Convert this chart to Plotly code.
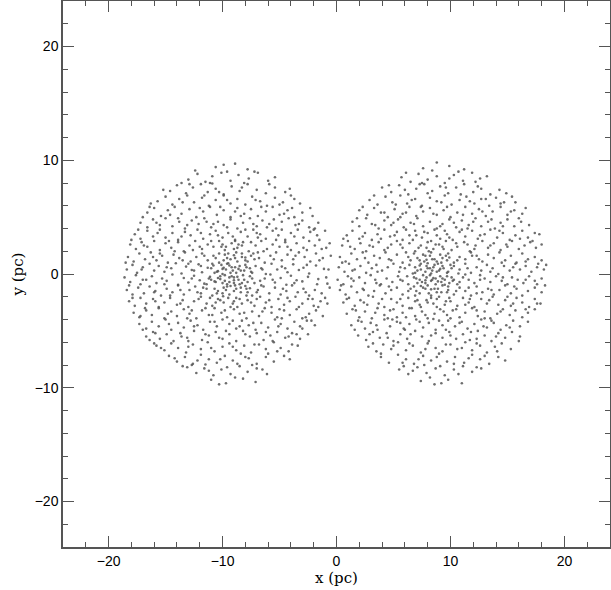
import plotly.graph_objects as go

# star positions (pc), one list per cluster
left_stars = [
    (-10.6, 9.4), (-8.9, 9.7), (-7.8, 9.2), (-9.9, 9.6),
    (-13.0, 8.3), (-12.2, 8.8), (-11.5, 8.1), (-10.9, 8.6), (-10.1, 8.9), (-9.3, 8.2), (-8.6, 8.7), (-7.7, 8.4), (-6.9, 8.9), (-6.0, 8.2),
    (-14.6, 7.3), (-14.0, 7.8), (-13.2, 7.1), (-12.6, 7.6), (-11.9, 7.9), (-11.3, 7.2), (-10.6, 7.5), (-9.9, 7.0), (-9.2, 7.7), (-8.5, 7.3),
    (-7.8, 7.9), (-7.0, 7.4), (-6.2, 7.1), (-5.4, 7.6), (-4.5, 7.2),
    (-15.7, 6.4), (-15.0, 6.8), (-14.4, 6.1), (-13.8, 6.6), (-13.1, 6.9), (-12.5, 6.3), (-11.8, 6.7), (-11.2, 6.0), (-10.6, 6.5), (-9.9, 6.9),
    (-9.3, 6.2), (-8.7, 6.6), (-8.0, 6.1), (-7.4, 6.8), (-6.7, 6.4), (-6.1, 6.0), (-5.4, 6.7), (-4.7, 6.3), (-4.0, 6.9), (-3.2, 6.2),
    (-16.6, 5.4), (-16.0, 5.8), (-15.4, 5.1), (-14.8, 5.6), (-14.2, 5.9), (-13.6, 5.3), (-12.9, 5.7), (-12.3, 5.0), (-11.7, 5.5), (-11.1, 5.9),
    (-10.5, 5.2), (-9.9, 5.6), (-9.3, 5.0), (-8.7, 5.8), (-8.1, 5.3), (-7.5, 5.7), (-6.9, 5.1), (-6.2, 5.5), (-5.6, 5.9), (-5.0, 5.2),
    (-4.3, 5.6), (-3.7, 5.0), (-3.0, 5.4), (-2.3, 5.8),
    (-17.2, 4.5), (-16.6, 4.1), (-16.1, 4.8), (-15.5, 4.3), (-15.0, 4.9), (-14.4, 4.2), (-13.8, 4.6), (-13.3, 4.0), (-12.7, 4.7), (-12.1, 4.4),
    (-11.6, 4.9), (-11.0, 4.1), (-10.4, 4.6), (-9.9, 4.3), (-9.3, 4.8), (-8.7, 4.0), (-8.2, 4.5), (-7.6, 4.9), (-7.0, 4.2), (-6.5, 4.7),
    (-5.9, 4.4), (-5.3, 4.0), (-4.8, 4.6), (-4.2, 4.9), (-3.6, 4.3), (-3.0, 4.7), (-2.4, 4.1), (-1.6, 4.5),
    (-17.7, 3.5), (-17.2, 3.1), (-16.6, 3.8), (-16.1, 3.3), (-15.5, 3.9), (-15.0, 3.2), (-14.4, 3.6), (-13.9, 3.0), (-13.3, 3.7), (-12.8, 3.4),
    (-12.2, 3.9), (-11.7, 3.1), (-11.1, 3.5), (-10.6, 3.8), (-10.0, 3.2), (-9.5, 3.6), (-8.9, 3.0), (-8.4, 3.7), (-7.8, 3.3), (-7.3, 3.9),
    (-6.7, 3.5), (-6.2, 3.1), (-5.6, 3.8), (-5.1, 3.4), (-4.5, 3.0), (-4.0, 3.6), (-3.4, 3.9), (-2.9, 3.2), (-2.3, 3.7), (-1.7, 3.4), (-1.0, 3.8),
    (-18.1, 2.6), (-17.6, 2.2), (-17.1, 2.8), (-16.6, 2.4), (-16.0, 2.9), (-15.5, 2.1), (-15.0, 2.7), (-14.5, 2.3), (-13.9, 2.8), (-13.4, 2.0),
    (-12.9, 2.5), (-12.4, 2.9), (-11.8, 2.2), (-11.3, 2.6), (-10.8, 2.4), (-10.3, 2.9), (-9.8, 2.1), (-9.2, 2.7), (-8.7, 2.3), (-8.2, 2.8),
    (-7.7, 2.0), (-7.1, 2.5), (-6.6, 2.9), (-6.1, 2.2), (-5.6, 2.6), (-5.0, 2.4), (-4.5, 2.8), (-4.0, 2.1), (-3.5, 2.7), (-2.9, 2.3),
    (-2.4, 2.9), (-1.9, 2.5), (-1.3, 2.2), (-0.6, 2.7), (-10.1, 2.4), (-9.0, 2.2), (-8.3, 2.5),
    (-18.3, 1.5), (-17.8, 1.1), (-17.3, 1.8), (-16.8, 1.3), (-16.3, 1.9), (-15.8, 1.2), (-15.3, 1.6), (-14.8, 1.0), (-14.3, 1.7), (-13.8, 1.4),
    (-13.3, 1.9), (-12.8, 1.1), (-12.3, 1.5), (-11.8, 1.8), (-11.3, 1.2), (-10.8, 1.6), (-10.3, 1.0), (-9.8, 1.7), (-9.3, 1.3), (-8.8, 1.9),
    (-8.3, 1.5), (-7.8, 1.1), (-7.3, 1.8), (-6.8, 1.4), (-6.3, 1.0), (-5.8, 1.6), (-5.3, 1.9), (-4.8, 1.2), (-4.3, 1.7), (-3.8, 1.3),
    (-3.3, 1.9), (-2.8, 1.5), (-2.3, 1.1), (-1.8, 1.8), (-1.2, 1.4), (-0.5, 1.6),
    (-10.6, 1.4), (-9.9, 1.2), (-9.5, 1.8), (-8.9, 1.4), (-8.0, 1.2), (-7.5, 1.6),
    (-18.4, 0.4), (-17.9, 0.8), (-17.5, 0.1), (-17.0, 0.6), (-16.4, 0.9), (-16.0, 0.3), (-15.6, 0.7), (-15.1, 0.2), (-14.5, 0.5), (-14.1, 0.95),
    (-13.6, 0.05), (-13.2, 0.65), (-12.7, 0.35), (-12.1, 0.85), (-11.8, 0.15), (-11.3, 0.55), (-10.8, 0.75), (-10.4, 0.25), (-10.0, 0.45), (-9.6, 0.9),
    (-9.3, 0.1), (-8.9, 0.6), (-8.4, 0.3), (-8.0, 0.8), (-7.5, 0.2), (-7.1, 0.7), (-6.6, 0.5), (-6.2, 0.0), (-5.7, 0.9), (-5.2, 0.4),
    (-4.8, 0.65), (-4.3, 0.15), (-3.8, 0.85), (-3.3, 0.35), (-2.9, 0.55), (-2.4, 0.05), (-1.8, 0.75), (-1.1, 0.45),
    (-11.0, 0.5), (-10.5, 0.2), (-10.1, 0.8), (-9.7, 0.4), (-9.2, 0.6), (-8.8, 0.1), (-8.5, 0.7), (-8.1, 0.3), (-9.5, 0.95), (-7.6, 0.5),
    (-18.6, -0.3), (-18.1, -0.7), (-17.6, -0.1), (-17.2, -0.9), (-16.7, -0.5), (-16.2, -0.2), (-15.8, -0.8), (-15.3, -0.4), (-14.9, -0.6), (-14.4, -0.05),
    (-13.9, -0.95), (-13.4, -0.35), (-13.0, -0.75), (-12.5, -0.15), (-12.0, -0.55), (-11.6, -0.85), (-11.1, -0.25), (-10.7, -0.65), (-10.2, -0.45), (-9.8, -0.1),
    (-9.4, -0.7), (-9.0, -0.3), (-8.5, -0.9), (-8.1, -0.5), (-7.6, -0.2), (-7.2, -0.8), (-6.7, -0.6), (-6.3, -0.4), (-5.8, -0.05), (-5.4, -0.75),
    (-4.9, -0.35), (-4.4, -0.95), (-4.0, -0.15), (-3.5, -0.55), (-3.0, -0.65), (-2.5, -0.25), (-1.6, -0.45), (-0.8, -0.85),
    (-11.2, -0.4), (-10.6, -0.7), (-10.2, -0.2), (-9.8, -0.6), (-9.4, -0.3), (-9.0, -0.8), (-8.6, -0.5), (-8.2, -0.1), (-7.8, -0.7), (-9.6, -0.9),
    (-18.4, -1.4), (-17.9, -1.8), (-17.4, -1.2), (-16.9, -1.7), (-16.4, -1.1), (-15.9, -1.5), (-15.4, -1.9), (-14.9, -1.3), (-14.4, -1.6), (-13.9, -1.0),
    (-13.4, -1.8), (-12.9, -1.4), (-12.4, -1.1), (-11.9, -1.7), (-11.4, -1.3), (-10.9, -1.9), (-10.4, -1.5), (-9.9, -1.2), (-9.4, -1.8), (-8.9, -1.0),
    (-8.4, -1.6), (-7.9, -1.3), (-7.4, -1.9), (-6.9, -1.4), (-6.4, -1.1), (-5.9, -1.7), (-5.4, -1.2), (-4.9, -1.8), (-4.4, -1.5), (-3.9, -1.0),
    (-3.4, -1.6), (-2.9, -1.3), (-2.4, -1.9), (-1.9, -1.4), (-1.3, -1.7), (-0.6, -1.2),
    (-10.7, -1.3), (-10.0, -1.7), (-9.6, -1.1), (-9.0, -1.5), (-8.4, -1.2), (-7.8, -1.6),
    (-18.2, -2.4), (-17.7, -2.8), (-17.2, -2.1), (-16.7, -2.6), (-16.1, -2.2), (-15.6, -2.9), (-15.1, -2.5), (-14.6, -2.1), (-14.0, -2.7), (-13.5, -2.3),
    (-13.0, -2.9), (-12.5, -2.4), (-11.9, -2.0), (-11.4, -2.6), (-10.9, -2.8), (-10.4, -2.2), (-9.9, -2.5), (-9.3, -2.9), (-8.8, -2.1), (-8.3, -2.6),
    (-7.8, -2.3), (-7.2, -2.8), (-6.7, -2.0), (-6.2, -2.5), (-5.7, -2.9), (-5.1, -2.2), (-4.6, -2.7), (-4.1, -2.4), (-3.6, -2.0), (-3.0, -2.6),
    (-2.5, -2.2), (-2.0, -2.8), (-1.4, -2.4), (-0.8, -2.6), (-10.2, -2.3), (-9.1, -2.6), (-8.5, -2.2),
    (-17.8, -3.4), (-17.3, -3.8), (-16.7, -3.2), (-16.2, -3.6), (-15.6, -3.0), (-15.1, -3.9), (-14.5, -3.3), (-14.0, -3.7), (-13.4, -3.1), (-12.9, -3.5),
    (-12.3, -3.9), (-11.8, -3.2), (-11.2, -3.6), (-10.7, -3.0), (-10.1, -3.4), (-9.6, -3.8), (-9.0, -3.1), (-8.5, -3.5), (-7.9, -3.9), (-7.4, -3.3),
    (-6.8, -3.7), (-6.3, -3.0), (-5.7, -3.4), (-5.2, -3.8), (-4.6, -3.2), (-4.1, -3.6), (-3.5, -3.1), (-3.0, -3.9), (-2.4, -3.5), (-1.8, -3.2), (-1.2, -3.7),
    (-17.3, -4.4), (-16.7, -4.8), (-16.2, -4.2), (-15.6, -4.6), (-15.0, -4.0), (-14.5, -4.9), (-13.9, -4.3), (-13.4, -4.7), (-12.8, -4.1), (-12.2, -4.5),
    (-11.7, -4.9), (-11.1, -4.2), (-10.5, -4.6), (-10.0, -4.0), (-9.4, -4.4), (-8.8, -4.8), (-8.3, -4.1), (-7.7, -4.5), (-7.1, -4.9), (-6.6, -4.3),
    (-6.0, -4.7), (-5.4, -4.0), (-4.9, -4.4), (-4.3, -4.8), (-3.7, -4.2), (-3.2, -4.6), (-2.6, -4.1), (-1.9, -4.5),
    (-16.7, -5.5), (-16.1, -5.1), (-15.5, -5.7), (-14.9, -5.3), (-14.3, -5.9), (-13.7, -5.2), (-13.1, -5.6), (-12.5, -5.0), (-11.8, -5.8), (-11.2, -5.4),
    (-10.6, -5.1), (-10.0, -5.7), (-9.4, -5.3), (-8.8, -5.9), (-8.2, -5.0), (-7.6, -5.5), (-7.0, -5.2), (-6.4, -5.8), (-5.8, -5.4), (-5.2, -5.1),
    (-4.5, -5.6), (-3.9, -5.2), (-3.2, -5.7), (-2.5, -5.3),
    (-15.8, -6.3), (-15.1, -6.7), (-14.5, -6.1), (-13.9, -6.5), (-13.2, -6.9), (-12.6, -6.2), (-11.9, -6.6), (-11.3, -6.0), (-10.7, -6.8), (-10.0, -6.4),
    (-9.4, -6.1), (-8.8, -6.7), (-8.1, -6.3), (-7.5, -6.9), (-6.8, -6.2), (-6.2, -6.6), (-5.5, -6.0), (-4.9, -6.5), (-4.2, -6.8), (-3.4, -6.3),
    (-14.7, -7.2), (-14.0, -7.7), (-13.3, -7.3), (-12.6, -7.9), (-11.9, -7.1), (-11.2, -7.5), (-10.5, -7.8), (-9.8, -7.2), (-9.1, -7.6), (-8.4, -7.0),
    (-7.7, -7.4), (-7.0, -7.9), (-6.2, -7.3), (-5.5, -7.7), (-4.6, -7.2),
    (-13.1, -8.2), (-12.3, -8.7), (-11.6, -8.3), (-10.8, -8.9), (-10.1, -8.4), (-9.3, -8.8), (-8.5, -8.1), (-7.8, -8.6), (-7.0, -8.3), (-6.1, -8.8),
    (-11.0, -9.3), (-9.7, -9.6), (-8.2, -9.2), (-7.1, -9.5),
    # fainter fill between the rows above
    (-12.4, 9.1), (-11.1, 8.0), (-9.6, 9.0), (-8.1, 8.0), (-7.2, 9.0), (-5.4, 8.5), (-13.6, 8.0),
    (-15.2, 7.4), (-13.5, 6.3), (-12.9, 7.9), (-11.6, 6.9), (-10.3, 7.2), (-9.6, 6.5), (-8.3, 7.6), (-7.1, 6.5), (-5.9, 7.9), (-5.0, 6.1),
    (-3.7, 6.6), (-4.1, 7.5), (-16.3, 6.2), (-10.9, 7.95),
    (-17.0, 5.0), (-15.8, 4.5), (-14.6, 5.2), (-13.1, 4.3), (-12.0, 5.8), (-11.4, 4.6), (-10.2, 5.9), (-9.6, 4.1), (-8.4, 5.1), (-7.3, 4.4),
    (-6.6, 5.9), (-5.5, 4.8), (-4.6, 5.3), (-3.3, 4.4), (-2.1, 5.1), (-1.9, 4.0), (-16.4, 5.9), (-13.9, 4.9), (-10.8, 4.4), (-8.9, 5.5),
    (-6.1, 4.1), (-3.9, 5.8),
    (-18.0, 3.0), (-16.9, 2.5), (-15.7, 3.6), (-14.7, 2.9), (-13.6, 3.3), (-12.6, 2.1), (-11.9, 3.6), (-11.0, 2.9), (-10.4, 3.4), (-9.7, 2.4),
    (-9.1, 3.3), (-8.6, 2.6), (-8.0, 3.9), (-7.5, 2.8), (-6.9, 3.2), (-6.4, 2.0), (-5.3, 3.0), (-4.3, 2.4), (-3.7, 3.3), (-2.6, 2.1),
    (-1.5, 3.0), (-0.9, 2.3), (-17.4, 3.9), (-14.2, 2.0), (-10.0, 2.6), (-8.9, 2.9), (-7.0, 3.6), (-4.8, 3.9), (-2.0, 3.9), (-12.0, 2.4),
    (-18.5, 1.0), (-17.1, 0.4), (-16.1, 1.5), (-14.9, 0.6), (-13.5, 1.2), (-12.5, 0.3), (-11.6, 1.6), (-10.9, 0.9), (-10.3, 1.8), (-10.0, 0.0),
    (-9.6, 1.4), (-9.1, 0.3), (-8.7, 1.1), (-8.3, 1.8), (-7.9, 0.6), (-7.2, 1.3), (-6.5, 0.4), (-5.5, 1.3), (-4.5, 0.5), (-3.6, 1.6),
    (-2.6, 0.8), (-1.5, 1.2), (-0.7, 0.4), (-11.9, 0.7), (-10.7, 0.1), (-9.4, 0.75), (-8.6, 0.45), (-8.0, 1.45), (-6.9, 1.9), (-15.5, 1.8),
    (-13.0, 0.9), (-9.9, 0.55), (-9.0, 1.65), (-7.4, 0.1),
    (-18.2, -1.0), (-17.0, -0.5), (-16.0, -1.6), (-15.1, -0.9), (-13.7, -1.4), (-12.7, -0.4), (-11.7, -1.2), (-11.0, -0.5), (-10.5, -1.7), (-10.0, -0.8),
    (-9.7, -1.4), (-9.2, -0.2), (-8.8, -1.3), (-8.3, -0.8), (-7.9, -1.9), (-7.4, -0.4), (-6.6, -1.0), (-5.6, -0.5), (-4.7, -1.3), (-3.7, -0.8),
    (-2.7, -1.6), (-1.7, -0.9), (-0.9, -0.3), (-11.4, -0.9), (-10.4, -0.35), (-9.3, -1.05), (-8.7, -0.25), (-8.0, -1.05), (-7.0, -1.6), (-14.6, -1.9),
    (-12.2, -1.6), (-9.95, -1.95), (-9.0, -0.55), (-7.6, -1.25),
    (-17.9, -2.1), (-16.8, -3.0), (-15.9, -2.4), (-14.8, -3.5), (-13.7, -2.6), (-12.7, -3.2), (-12.1, -2.2), (-11.5, -3.0), (-10.6, -2.5), (-9.8, -3.2),
    (-9.5, -2.1), (-8.7, -2.9), (-8.1, -3.4), (-7.5, -2.5), (-6.5, -3.3), (-5.9, -2.3), (-5.0, -3.1), (-4.3, -2.1), (-3.3, -2.9), (-2.7, -3.8),
    (-1.6, -2.9), (-1.0, -2.1), (-17.2, -3.7), (-13.1, -3.9), (-10.9, -3.6), (-9.0, -2.4), (-7.0, -2.2), (-4.8, -3.9), (-2.1, -2.2), (-11.1, -2.1),
    (-17.0, -4.9), (-15.9, -5.2), (-14.7, -4.4), (-13.6, -5.5), (-12.5, -4.6), (-11.5, -5.3), (-10.7, -4.2), (-9.7, -5.0), (-9.1, -4.1), (-8.0, -5.3),
    (-7.3, -4.3), (-6.2, -5.1), (-5.1, -4.6), (-4.2, -5.5), (-3.0, -4.8), (-2.2, -4.1), (-16.4, -5.8), (-13.0, -5.9), (-10.3, -5.6), (-8.5, -4.6),
    (-5.6, -5.9), (-3.5, -5.3),
    (-15.4, -6.5), (-14.2, -7.4), (-13.0, -6.4), (-12.2, -7.6), (-11.0, -6.5), (-10.2, -7.5), (-9.1, -6.4), (-8.0, -7.3), (-7.2, -6.2), (-6.0, -7.0),
    (-5.2, -6.8), (-3.9, -6.2), (-4.1, -7.5), (-16.0, -6.1), (-11.5, -7.95), (-8.7, -7.9),
    (-12.7, -8.0), (-11.2, -8.5), (-9.6, -8.2), (-8.9, -9.1), (-7.4, -8.0), (-6.5, -8.4), (-10.3, -9.7), (-13.5, -8.1),
]

right_stars = [
    (7.6, 9.3), (8.8, 9.8), (9.9, 9.5), (11.2, 9.2),
    (5.7, 8.5), (6.5, 8.1), (7.2, 8.8), (8.0, 8.3), (8.8, 8.6), (9.5, 8.0), (10.3, 8.7), (11.1, 8.2), (11.9, 8.9), (12.6, 8.4),
    (4.0, 7.6), (4.8, 7.2), (5.5, 7.8), (6.3, 7.0), (7.0, 7.5), (7.7, 7.9), (8.4, 7.3), (9.1, 7.7), (9.8, 7.1), (10.5, 7.6),
    (11.2, 7.9), (12.0, 7.2), (12.7, 7.5), (13.5, 7.0), (14.3, 7.4),
    (2.9, 6.5), (3.6, 6.1), (4.3, 6.8), (4.9, 6.3), (5.6, 6.9), (6.2, 6.2), (6.9, 6.6), (7.5, 6.0), (8.2, 6.7), (8.8, 6.4),
    (9.5, 6.9), (10.1, 6.1), (10.8, 6.5), (11.4, 6.8), (12.1, 6.2), (12.7, 6.6), (13.4, 6.0), (14.0, 6.7), (14.7, 6.3), (15.4, 6.8),
    (2.0, 5.6), (2.7, 5.2), (3.3, 5.8), (3.9, 5.4), (4.5, 5.0), (5.1, 5.7), (5.8, 5.3), (6.4, 5.9), (7.0, 5.1), (7.6, 5.5),
    (8.2, 5.8), (8.8, 5.2), (9.4, 5.6), (10.0, 5.0), (10.6, 5.4), (11.3, 5.9), (11.9, 5.3), (12.5, 5.7), (13.1, 5.1), (13.7, 5.5),
    (14.4, 5.9), (15.0, 5.2), (15.6, 5.6), (16.3, 5.3),
    (1.4, 4.6), (2.0, 4.2), (2.6, 4.9), (3.1, 4.4), (3.7, 4.0), (4.2, 4.7), (4.8, 4.3), (5.4, 4.8), (5.9, 4.1), (6.5, 4.5),
    (7.1, 4.9), (7.6, 4.2), (8.2, 4.6), (8.8, 4.0), (9.3, 4.4), (9.9, 4.8), (10.5, 4.1), (11.0, 4.7), (11.6, 4.3), (12.2, 4.9),
    (12.7, 4.2), (13.3, 4.6), (13.9, 4.0), (14.4, 4.5), (15.0, 4.8), (15.6, 4.2), (16.2, 4.6), (16.9, 4.3),
    (0.9, 3.4), (1.4, 3.8), (2.0, 3.1), (2.5, 3.6), (3.1, 3.0), (3.6, 3.5), (4.2, 3.9), (4.7, 3.3), (5.3, 3.7), (5.8, 3.0),
    (6.4, 3.4), (6.9, 3.8), (7.5, 3.2), (8.0, 3.6), (8.6, 3.9), (9.1, 3.1), (9.7, 3.5), (10.2, 3.0), (10.8, 3.7), (11.3, 3.3),
    (11.9, 3.8), (12.4, 3.1), (13.0, 3.5), (13.5, 3.9), (14.1, 3.2), (14.6, 3.6), (15.2, 3.0), (15.7, 3.4), (16.3, 3.8), (16.8, 3.2), (17.4, 3.6),
    (0.5, 2.5), (1.0, 2.9), (1.6, 2.2), (2.1, 2.7), (2.6, 2.0), (3.2, 2.4), (3.7, 2.8), (4.2, 2.1), (4.8, 2.6), (5.3, 2.9),
    (5.8, 2.3), (6.4, 2.7), (6.9, 2.0), (7.4, 2.5), (8.0, 2.8), (8.5, 2.2), (9.0, 2.6), (9.6, 2.9), (10.1, 2.1), (10.6, 2.4),
    (11.2, 2.8), (11.7, 2.0), (12.2, 2.5), (12.8, 2.9), (13.3, 2.3), (13.8, 2.7), (14.4, 2.1), (14.9, 2.6), (15.4, 2.9), (16.0, 2.2),
    (16.5, 2.5), (17.0, 2.8), (17.5, 2.3), (18.0, 2.6), (7.9, 2.3), (8.7, 2.6), (9.4, 2.2),
    (0.3, 1.5), (0.8, 1.1), (1.3, 1.8), (1.8, 1.3), (2.3, 1.9), (2.8, 1.0), (3.3, 1.6), (3.8, 1.4), (4.3, 1.9), (4.8, 1.2),
    (5.3, 1.7), (5.8, 1.0), (6.3, 1.5), (6.8, 1.8), (7.3, 1.2), (7.8, 1.6), (8.3, 1.9), (8.8, 1.1), (9.3, 1.4), (9.8, 1.8),
    (10.3, 1.0), (10.8, 1.5), (11.3, 1.3), (11.8, 1.9), (12.3, 1.6), (12.8, 1.1), (13.3, 1.7), (13.8, 1.4), (14.3, 1.9), (14.8, 1.2),
    (15.3, 1.6), (15.8, 1.0), (16.3, 1.8), (16.8, 1.3), (17.4, 1.5), (18.0, 1.2),
    (7.1, 1.4), (7.7, 1.1), (8.2, 1.6), (8.6, 1.3), (9.1, 1.7), (9.7, 1.2),
    (0.2, 0.6), (0.7, 0.2), (1.1, 0.9), (1.6, 0.4), (2.1, 0.7), (2.6, 0.1), (3.1, 0.5), (3.5, 0.8), (4.0, 0.3), (4.5, 0.6),
    (5.0, 0.9), (5.5, 0.2), (6.0, 0.5), (6.4, 0.8), (6.9, 0.1), (7.4, 0.4), (7.9, 0.7), (8.4, 0.3), (8.9, 0.9), (9.4, 0.5),
    (9.8, 0.2), (10.3, 0.7), (10.8, 0.4), (11.3, 0.9), (11.8, 0.1), (12.3, 0.6), (12.7, 0.3), (13.2, 0.8), (13.7, 0.5), (14.2, 0.0),
    (14.7, 0.7), (15.2, 0.3), (15.7, 0.9), (16.1, 0.4), (16.6, 0.7), (17.1, 0.2), (17.6, 0.6), (18.2, 0.4),
    (6.9, 0.6), (7.4, 0.9), (7.8, 0.2), (8.2, 0.5), (8.6, 0.8), (9.0, 0.3), (9.3, 0.7), (9.7, 0.1), (8.0, 0.95), (10.1, 0.5),
    (0.1, -0.5), (0.6, -0.9), (1.0, -0.2), (1.5, -0.6), (2.0, -0.3), (2.5, -0.8), (3.0, -0.1), (3.4, -0.5), (3.9, -0.9), (4.4, -0.4),
    (4.9, -0.7), (5.4, -0.2), (5.8, -0.6), (6.3, -0.9), (6.8, -0.3), (7.3, -0.5), (7.8, -0.8), (8.2, -0.1), (8.7, -0.4), (9.2, -0.7),
    (9.7, -0.2), (10.2, -0.6), (10.6, -0.9), (11.1, -0.3), (11.6, -0.5), (12.1, -0.8), (12.6, -0.1), (13.0, -0.4), (13.5, -0.7), (14.0, -0.2),
    (14.5, -0.6), (15.0, -0.9), (15.4, -0.3), (15.9, -0.5), (16.4, -0.8), (16.9, -0.2), (17.4, -0.6), (18.0, -0.4),
    (7.0, -0.4), (7.5, -0.7), (7.9, -0.3), (8.3, -0.6), (8.7, -0.9), (9.1, -0.2), (9.5, -0.5), (9.9, -0.8), (8.5, -0.35), (10.3, -0.5),
    (0.3, -1.4), (0.8, -1.8), (1.3, -1.1), (1.8, -1.6), (2.3, -1.3), (2.8, -1.9), (3.3, -1.5), (3.8, -1.0), (4.3, -1.7), (4.8, -1.4),
    (5.3, -1.2), (5.8, -1.8), (6.3, -1.5), (6.8, -1.1), (7.3, -1.7), (7.8, -1.3), (8.3, -1.9), (8.8, -1.6), (9.3, -1.0), (9.8, -1.4),
    (10.3, -1.8), (10.8, -1.2), (11.3, -1.5), (11.8, -1.9), (12.3, -1.1), (12.8, -1.6), (13.3, -1.3), (13.8, -1.8), (14.3, -1.4), (14.8, -1.0),
    (15.3, -1.7), (15.8, -1.3), (16.3, -1.9), (16.8, -1.5), (17.4, -1.2), (18.0, -1.6),
    (7.0, -1.5), (7.6, -1.2), (8.1, -1.7), (8.6, -1.3), (9.2, -1.6), (9.8, -1.1),
    (0.6, -2.5), (1.1, -2.1), (1.6, -2.8), (2.1, -2.3), (2.7, -2.7), (3.2, -2.0), (3.7, -2.6), (4.2, -2.9), (4.8, -2.2), (5.3, -2.5),
    (5.8, -2.8), (6.3, -2.1), (6.9, -2.4), (7.4, -2.9), (7.9, -2.3), (8.5, -2.6), (9.0, -2.0), (9.5, -2.7), (10.0, -2.4), (10.6, -2.8),
    (11.1, -2.1), (11.6, -2.5), (12.1, -2.9), (12.7, -2.2), (13.2, -2.6), (13.7, -2.0), (14.2, -2.7), (14.8, -2.3), (15.3, -2.8), (15.8, -2.1),
    (16.3, -2.5), (16.9, -2.9), (17.4, -2.2), (17.9, -2.6), (8.0, -2.5), (8.8, -2.2), (9.6, -2.4),
    (0.9, -3.5), (1.4, -3.1), (2.0, -3.8), (2.5, -3.3), (3.1, -3.9), (3.6, -3.0), (4.2, -3.6), (4.7, -3.2), (5.3, -3.8), (5.8, -3.4),
    (6.4, -3.0), (6.9, -3.7), (7.5, -3.3), (8.0, -3.9), (8.6, -3.5), (9.1, -3.1), (9.7, -3.6), (10.2, -3.2), (10.8, -3.8), (11.3, -3.4),
    (11.9, -3.0), (12.4, -3.7), (13.0, -3.3), (13.5, -3.9), (14.1, -3.5), (14.6, -3.1), (15.2, -3.6), (15.7, -3.2), (16.3, -3.8), (16.8, -3.4), (17.4, -3.1),
    (1.3, -4.5), (1.9, -4.1), (2.5, -4.8), (3.0, -4.3), (3.6, -4.9), (4.2, -4.0), (4.7, -4.6), (5.3, -4.2), (5.9, -4.8), (6.4, -4.4),
    (7.0, -4.0), (7.6, -4.7), (8.1, -4.3), (8.7, -4.9), (9.3, -4.5), (9.8, -4.1), (10.4, -4.6), (11.0, -4.2), (11.5, -4.8), (12.1, -4.4),
    (12.7, -4.0), (13.2, -4.7), (13.8, -4.3), (14.4, -4.9), (14.9, -4.5), (15.5, -4.1), (16.1, -4.6), (16.8, -4.2),
    (1.9, -5.4), (2.6, -5.8), (3.2, -5.1), (3.8, -5.6), (4.4, -5.2), (5.0, -5.9), (5.6, -5.3), (6.2, -5.7), (6.9, -5.0), (7.5, -5.5),
    (8.1, -5.9), (8.7, -5.2), (9.3, -5.6), (9.9, -5.1), (10.5, -5.7), (11.1, -5.3), (11.7, -5.8), (12.4, -5.0), (13.0, -5.4), (13.6, -5.9),
    (14.2, -5.2), (14.8, -5.6), (15.4, -5.1), (16.1, -5.5),
    (2.8, -6.4), (3.5, -6.8), (4.1, -6.2), (4.8, -6.6), (5.4, -6.0), (6.1, -6.7), (6.7, -6.3), (7.4, -6.9), (8.0, -6.1), (8.7, -6.5),
    (9.3, -6.8), (10.0, -6.2), (10.6, -6.6), (11.3, -6.0), (11.9, -6.7), (12.6, -6.3), (13.2, -6.9), (13.9, -6.4), (14.5, -6.1), (15.3, -6.6),
    (3.9, -7.3), (4.6, -7.8), (5.4, -7.1), (6.1, -7.5), (6.8, -7.9), (7.6, -7.2), (8.3, -7.6), (9.0, -7.0), (9.7, -7.7), (10.4, -7.3),
    (11.2, -7.8), (11.9, -7.1), (12.6, -7.5), (13.4, -7.9), (14.2, -7.3),
    (5.5, -8.4), (6.3, -8.8), (7.1, -8.2), (7.9, -8.7), (8.7, -8.3), (9.5, -8.9), (10.3, -8.4), (11.1, -8.1), (11.9, -8.6), (12.7, -8.3),
    (7.4, -9.4), (8.6, -9.7), (9.8, -9.3), (11.0, -9.6),
    # fainter fill between the rows above
    (6.1, 8.9), (7.5, 8.0), (8.4, 9.1), (9.9, 8.4), (10.7, 9.0), (12.2, 8.1), (13.2, 8.6),
    (3.3, 6.9), (4.6, 7.8), (5.2, 6.1), (6.0, 7.4), (6.6, 6.5), (7.3, 7.9), (8.0, 7.1), (9.2, 6.3), (9.6, 7.6), (10.9, 7.0),
    (11.7, 6.4), (12.4, 7.7), (13.1, 6.6), (14.4, 6.2), (14.9, 7.1), (15.7, 6.3),
    (1.8, 4.9), (2.3, 5.9), (3.4, 4.3), (4.2, 5.4), (5.0, 4.5), (6.1, 5.4), (6.8, 4.4), (7.4, 5.9), (8.5, 5.3), (9.1, 4.2),
    (9.7, 5.9), (10.3, 4.5), (11.1, 5.2), (12.0, 4.6), (12.8, 5.5), (13.6, 4.8), (14.6, 4.2), (15.3, 5.5), (16.0, 4.9), (16.6, 5.8),
    (5.6, 5.0), (11.5, 4.0),
    (0.6, 3.1), (1.2, 2.4), (2.3, 3.3), (2.9, 2.5), (3.9, 3.1), (4.5, 2.3), (5.1, 3.4), (5.6, 2.6), (6.1, 3.9), (6.7, 3.0),
    (7.2, 2.3), (7.7, 3.7), (8.3, 2.9), (8.8, 3.4), (9.3, 2.4), (9.9, 3.2), (10.5, 2.7), (11.0, 3.9), (11.5, 2.6), (12.6, 3.4),
    (13.5, 2.5), (14.3, 3.8), (15.0, 2.4), (16.1, 3.1), (17.2, 2.9), (17.8, 3.5), (7.0, 3.4), (8.1, 2.0), (9.5, 3.8), (12.1, 2.2),
    (0.5, 1.0), (1.4, 0.3), (2.5, 1.4), (3.6, 0.2), (4.6, 1.3), (5.6, 0.6), (6.5, 1.2), (7.1, 0.3), (7.6, 1.7), (8.0, 0.5),
    (8.4, 1.3), (8.8, 0.2), (9.2, 1.0), (9.6, 1.6), (10.0, 0.8), (10.6, 1.2), (11.5, 0.5), (12.5, 1.3), (13.5, 0.2), (14.5, 1.0),
    (15.5, 0.6), (16.6, 1.1), (17.7, 0.9), (18.4, 0.8), (6.7, 0.05), (7.3, 0.75), (7.9, 1.25), (8.5, 0.6), (9.1, 0.45), (9.9, 1.45),
    (8.3, 0.05), (6.1, 1.9), (10.7, 0.05), (11.9, 1.6),
    (0.4, -1.0), (1.3, -0.4), (2.4, -1.4), (3.5, -0.8), (4.6, -1.1), (5.6, -0.5), (6.5, -1.3), (7.1, -0.8), (7.6, -0.1), (8.0, -1.0),
    (8.4, -0.5), (8.9, -1.3), (9.3, -0.4), (9.7, -1.6), (10.1, -0.3), (10.8, -0.7), (11.6, -1.2), (12.6, -0.5), (13.6, -1.4), (14.6, -0.3),
    (15.6, -1.1), (16.6, -0.5), (17.6, -0.9), (18.3, -1.0), (6.9, -1.9), (7.4, -1.05), (7.8, -0.55), (8.3, -1.35), (8.9, -0.65), (9.5, -0.95),
    (10.5, -1.5), (6.2, -0.2), (11.3, -0.05), (12.3, -1.7),
    (0.9, -2.2), (1.7, -3.2), (2.4, -2.5), (3.4, -3.4), (4.0, -2.2), (5.0, -3.1), (5.6, -2.2), (6.6, -3.0), (7.1, -2.3), (7.8, -3.6),
    (8.3, -2.1), (8.8, -2.9), (9.4, -3.3), (9.9, -2.1), (10.5, -3.1), (11.3, -2.7), (12.3, -3.2), (13.4, -2.3), (14.4, -3.3), (15.5, -2.6),
    (16.6, -3.1), (17.6, -2.6), (6.1, -3.8), (7.3, -2.7), (8.5, -3.95), (10.0, -3.9), (11.7, -2.2), (13.0, -3.9), (15.0, -2.0), (4.5, -3.9),
    (1.6, -4.9), (2.9, -5.3), (3.5, -4.5), (4.5, -5.6), (5.6, -4.3), (6.5, -5.3), (7.3, -4.2), (8.3, -5.4), (9.0, -4.1), (10.0, -5.4),
    (10.8, -4.3), (11.8, -5.1), (12.9, -4.6), (14.0, -5.5), (15.2, -4.7), (16.0, -5.9), (2.2, -4.2), (6.0, -4.9), (9.6, -4.9), (12.3, -5.7),
    (13.6, -4.1), (4.9, -4.0),
    (3.2, -6.1), (3.9, -7.0), (5.0, -6.3), (5.8, -7.8), (6.4, -6.1), (7.2, -7.5), (7.8, -6.6), (8.8, -7.3), (9.6, -6.2), (10.3, -7.9),
    (11.0, -6.5), (11.6, -7.4), (12.3, -6.1), (13.0, -7.2), (14.1, -6.8), (14.8, -7.6),
    (5.9, -8.1), (6.7, -8.5), (8.2, -9.1), (9.1, -8.1), (10.7, -8.8), (12.3, -8.2), (9.2, -9.6), (7.7, -8.0),
]

major_ticks = [-20, -10, 0, 10, 20]


def star_trace(stars):
    xs, ys = zip(*stars)
    return go.Scatter(x=xs, y=ys, mode='markers', hoverinfo='skip',
                      marker=dict(size=2.6, color='#555555', opacity=0.85, line=dict(width=0)))


axis_style = dict(
    range=[-24, 24], showgrid=False, zeroline=False, automargin=False,
    showline=True, linecolor='#555555', linewidth=1.5, mirror='allticks',
    ticks='inside', ticklen=11, tickwidth=1.3, tickcolor='#555555',
    tickvals=major_ticks, ticktext=[str(v).replace('-', '\u2212') for v in major_ticks],
    tickfont=dict(family='Liberation Sans', size=14, color='black'),
    minor=dict(dtick=2, ticks='inside', ticklen=5, tickwidth=1.3, tickcolor='#555555', showgrid=False),
)
title_font = dict(family='DejaVu Serif', size=15, color='black')

fig = go.Figure(data=[star_trace(left_stars), star_trace(right_stars)])
fig.update_layout(
    width=611, height=590, showlegend=False,
    paper_bgcolor='white', plot_bgcolor='white',
    margin=dict(l=63, r=1, t=1, b=43),
    xaxis=dict(axis_style, title=dict(text='x (pc)', standoff=3, font=title_font)),
    yaxis=dict(axis_style, title=dict(text='y (pc)', standoff=7, font=title_font)),
)
fig.write_html("out.html", config={'displayModeBar': False},
               post_script="document.body.style.margin='0';document.body.style.overflow='hidden';")
